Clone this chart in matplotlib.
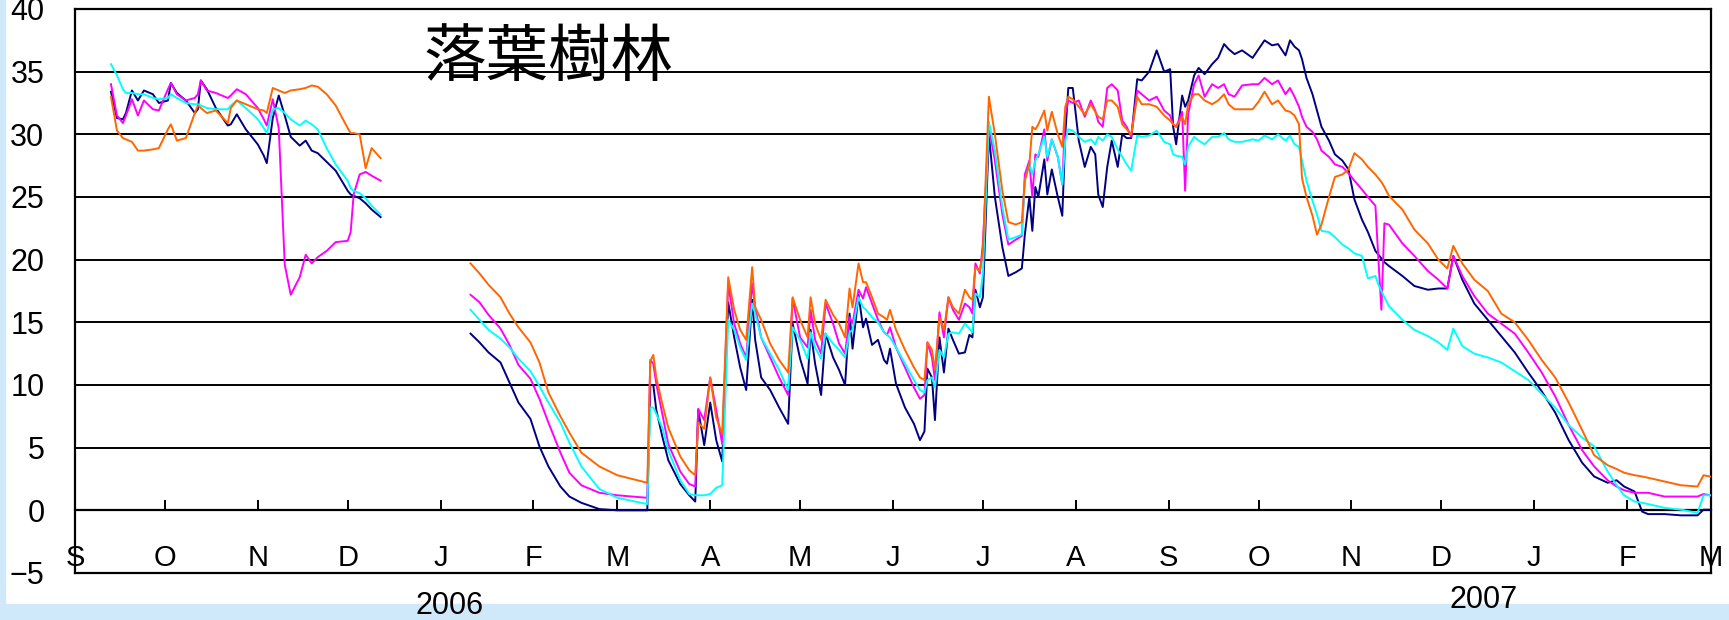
import numpy as np
import pandas as pd
import matplotlib
matplotlib.use("Agg")
import matplotlib.pyplot as plt
from matplotlib.patches import Rectangle
from matplotlib.transforms import blended_transform_factory

plt.rcParams["font.family"] = ["Liberation Sans", "DejaVu Sans"]

START = pd.Timestamp("2005-09-01")
END = pd.Timestamp("2007-03-01")

# days since 1 Sep 2005; the NaN row at day 117 breaks the lines over the gap
day = [
    # autumn 2005
    12, 14, 16, 17, 19, 21, 23, 26, 28, 31, 32, 34, 37, 40, 41, 42, 44, 47, 51, 52,
    54, 57, 61, 63, 64, 66, 68, 70, 72, 75, 77, 79, 81, 84, 87, 91, 92, 93, 95, 97,
    99, 102,
    117,
    # winter
    132, 135, 138, 142, 145, 148, 152, 155, 158, 162, 165, 169, 175, 181, 191,
    # spring
    192, 193, 194, 196, 198, 202, 205, 207, 208, 210, 212, 214, 216, 218, 220, 222,
    224, 226, 227, 229, 232, 235, 238, 239.5, 242, 244.5, 245.5, 247, 249, 250.5,
    253, 255, 257, 258.5, 259.5, 261.5, 263, 264, 266, 268, 270, 271, 272, 274, 277,
    280, 282, 283.5, 284.5, 286, 287, 288.5, 290, 291.5, 293, 295, 297, 298.5, 299.5,
    300.5, 302, 303,
    # summer
    305, 307, 309.5, 311.5, 314, 316, 317, 318.5, 319.5, 320.5, 321.5, 323.5, 324.5,
    326, 328, 329.5, 330.5, 331.5, 333, 335, 337, 339, 340.5, 341.5, 343, 344.5, 346,
    348, 349.5, 351, 352.5, 354.5, 356, 358.5, 361, 363.5, 365.5, 366.5, 367.5,
    369.5, 370.5, 371.5, 373.5, 375, 377, 379.5, 381.5, 383.5, 385, 387, 389.5, 393,
    395, 397, 399.5, 401.5, 404, 405.5, 407, 408.5, 409.5, 411, 413, 414.5, 416,
    418.5, 420.5, 423, 425,
    # autumn / winter 2006-07
    427, 429.5, 431.5, 434, 435, 436, 437, 438.5, 443, 447, 451.5, 455, 458, 460,
    463, 467, 471.5, 476, 480.5, 485, 489.5, 494, 498.5, 503, 507, 511.5, 514.5, 517,
    520.5, 523, 525, 530.5, 536, 541.5, 543.5, 545.7,
]

nan = np.nan

navy = [
    33.4, 31.3, 31.2, 31.7, 33.5, 32.7, 33.5, 33.2, 32.5, 32.7, 34.1, 33.3, 32.7, 31.7,
    32.0, 34.3, 33.6, 32.1, 30.7, 30.8, 31.6, 30.4, 29.2, 28.3, 27.7, 31.3, 33.1, 31.5,
    29.8, 29.1, 29.5, 28.7, 28.5, 27.8, 27.1, 25.5, 25.2, 25.1, 24.9, 24.5, 24.0, 23.4,
    nan,
    14.1, 13.4, 12.6, 11.8, 10.2, 8.6, 7.3, 5.1, 3.5, 1.9, 1.1, 0.6, 0.1, 0.0, 0.0,
    10.0, 10.0, 8.0, 5.9, 4.0, 2.1, 1.2, 0.7, 8.0, 5.2, 8.6, 5.6, 3.9, 16.6, 13.8, 11.4,
    9.6, 16.8, 13.6, 10.6, 9.6, 8.2, 6.9, 14.9, 12.1, 10.1, 14.4, 11.7, 9.2, 14.1, 12.2,
    11.2, 10.0, 15.7, 12.9, 17.2, 14.6, 15.3, 13.2, 13.6, 12.0, 11.7, 12.9, 10.1, 8.2,
    6.9, 5.6, 6.3, 11.3, 10.6, 7.2, 13.8, 11.0, 14.5, 13.6, 12.5, 12.6, 14.0, 13.8, 17.6,
    16.2, 17.0,
    30.0, 25.0, 21.0, 18.7, 19.0, 19.3, 22.0, 25.0, 22.3, 25.8, 25.0, 28.0, 25.2, 27.2,
    25.0, 23.5, 30.0, 33.7, 33.7, 29.5, 27.4, 29.0, 28.4, 25.2, 24.2, 27.4, 29.5, 27.4,
    30.0, 29.7, 29.7, 34.4, 34.3, 35.0, 36.7, 35.0, 35.2, 30.6, 29.2, 33.1, 32.2, 32.7,
    34.7, 35.3, 34.8, 35.6, 36.1, 37.2, 36.8, 36.4, 36.7, 36.1, 36.8, 37.5, 37.1, 37.2,
    36.3, 37.5, 37.0, 36.7, 36.0, 34.5, 33.2, 31.9, 30.6, 29.5, 28.4, 27.9, 27.2,
    24.8, 23.2, 22.2, 20.7, 20.4, 20.1, 19.8, 19.5, 18.7, 17.9, 17.6, 17.7, 17.7, 20.3,
    18.4, 16.5, 15.2, 13.9, 12.6, 11.0, 9.5, 7.8, 5.6, 3.8, 2.7, 2.2, 2.4, 1.9, 1.5,
    -0.1, -0.3, -0.3, -0.4, -0.4, 0.05, 0.05,
]

orange = [
    33.0, 30.3, 29.7, 29.6, 29.4, 28.7, 28.7, 28.8, 28.9, 30.4, 30.8, 29.5, 29.7, 31.7,
    32.3, 32.1, 31.7, 31.9, 30.9, 32.1, 32.7, 32.4, 32.0, 31.9, 31.7, 33.7, 33.5, 33.3,
    33.5, 33.6, 33.7, 33.9, 33.8, 33.2, 32.3, 30.5, 30.1, 30.1, 30.0, 27.3, 28.9, 28.1,
    nan,
    19.7, 18.9, 18.0, 17.0, 15.7, 14.6, 13.4, 11.8, 9.4, 7.5, 6.2, 4.6, 3.5, 2.8, 2.2,
    11.9, 12.4, 10.6, 8.5, 6.6, 4.3, 3.2, 2.8, 7.0, 6.5, 10.6, 7.4, 6.1, 18.6, 16.0,
    14.4, 13.6, 19.4, 16.2, 15.2, 13.3, 12.0, 11.0, 17.0, 15.2, 13.8, 17.0, 14.9, 13.6,
    16.8, 15.6, 14.9, 13.8, 17.7, 16.2, 19.7, 18.2, 18.2, 17.0, 15.7, 15.4, 15.2, 16.0,
    14.4, 12.8, 11.4, 10.6, 10.4, 13.4, 12.8, 11.2, 15.4, 14.4, 17.0, 16.2, 15.7, 17.6,
    17.0, 16.8, 19.4, 19.1, 20.7,
    33.0, 30.0, 25.5, 23.0, 22.8, 23.0, 26.3, 27.6, 30.6, 30.4, 30.8, 31.9, 30.3, 31.8,
    30.0, 29.0, 32.2, 33.0, 32.8, 32.2, 31.6, 32.4, 31.8, 31.4, 31.2, 32.7, 32.7, 32.2,
    30.8, 30.4, 30.0, 33.0, 32.4, 32.4, 32.2, 31.5, 31.1, 30.8, 30.6, 31.4, 30.8, 32.4,
    33.2, 33.2, 32.7, 32.4, 32.7, 33.2, 32.4, 32.0, 32.0, 32.0, 32.6, 33.4, 32.4, 32.7,
    31.9, 31.8, 31.5, 30.8, 26.5, 25.0, 23.5, 22.0, 22.8, 25.0, 26.6, 26.8, 27.2,
    28.5, 28.0, 27.4, 26.8, 26.5, 26.2, 25.8, 25.1, 24.0, 22.4, 21.3, 20.0, 19.3, 21.1,
    19.7, 18.4, 17.5, 15.7, 15.0, 13.6, 12.0, 10.6, 8.6, 6.4, 4.4, 3.6, 3.3, 3.0, 2.8,
    2.7, 2.6, 2.3, 2.0, 1.9, 2.8, 2.7,
]

magenta = [
    34.0, 31.5, 30.9, 31.5, 32.8, 31.5, 32.7, 32.0, 31.9, 33.6, 34.1, 33.2, 32.7, 32.9,
    33.2, 34.3, 33.5, 33.3, 32.9, 33.1, 33.6, 33.2, 32.1, 31.2, 30.7, 32.8, 30.5, 19.6,
    17.2, 18.6, 20.4, 19.7, 20.2, 20.7, 21.4, 21.5, 22.2, 25.2, 26.8, 27.0, 26.7, 26.3,
    nan,
    17.2, 16.6, 15.6, 14.5, 13.2, 11.6, 10.5, 8.9, 7.0, 4.6, 3.0, 2.0, 1.4, 1.2, 1.0,
    12.0, 11.7, 10.1, 7.7, 5.3, 3.1, 2.1, 1.9, 8.1, 7.2, 10.6, 8.0, 5.3, 18.1, 14.9,
    13.3, 12.2, 18.1, 16.2, 13.8, 12.2, 10.6, 9.2, 16.9, 13.8, 13.0, 16.0, 13.6, 12.5,
    16.5, 14.9, 13.3, 12.5, 15.4, 14.9, 17.6, 16.9, 17.8, 16.5, 15.2, 14.2, 14.0, 14.6,
    13.0, 11.4, 9.8, 8.9, 9.2, 13.4, 12.2, 10.4, 15.8, 13.8, 17.0, 16.0, 15.2, 16.5,
    16.2, 15.7, 19.7, 18.9, 21.3,
    30.6, 27.9, 23.6, 21.2, 21.6, 21.9, 26.8, 27.9, 25.0, 28.4, 28.2, 30.4, 27.9, 29.6,
    28.2, 26.0, 31.6, 32.7, 32.5, 32.7, 31.4, 32.7, 31.9, 31.0, 30.6, 33.7, 34.0, 33.5,
    31.1, 30.6, 29.8, 33.5, 33.2, 32.7, 33.0, 31.9, 31.5, 30.8, 30.6, 31.8, 25.5, 31.6,
    34.0, 34.7, 33.0, 34.0, 33.7, 34.0, 33.2, 33.0, 33.9, 34.0, 34.0, 34.5, 34.0, 34.3,
    33.2, 33.7, 33.0, 32.2, 31.4, 30.6, 30.2, 29.6, 28.7, 28.2, 27.6, 27.4, 26.9,
    26.3, 25.6, 25.0, 24.3, 20.0, 16.0, 22.9, 22.8, 21.3, 20.3, 19.1, 18.4, 17.7, 20.3,
    18.7, 17.1, 15.7, 14.9, 14.1, 12.6, 11.0, 9.1, 6.8, 4.8, 3.5, 2.4, 1.9, 1.6, 1.4,
    1.4, 1.4, 1.1, 1.1, 1.1, 1.3, 1.2,
]

cyan = [
    35.6, 34.7, 33.6, 33.3, 33.3, 33.2, 33.2, 32.9, 32.8, 32.9, 33.2, 32.9, 32.5, 32.4,
    32.4, 32.3, 32.1, 32.0, 32.0, 32.3, 32.7, 32.1, 31.2, 30.5, 30.1, 32.0, 32.1, 31.7,
    31.2, 30.7, 31.1, 30.8, 30.4, 28.9, 27.6, 26.3, 25.7, 25.5, 25.3, 24.9, 24.3, 23.6,
    nan,
    16.0, 15.2, 14.4, 13.7, 13.0, 12.1, 11.1, 9.9, 8.6, 7.0, 5.4, 3.5, 1.7, 1.0, 0.5,
    8.2, 8.2, 7.7, 6.6, 4.8, 2.4, 1.3, 1.2, 1.2, 1.2, 1.3, 1.8, 2.0, 15.2, 14.4, 13.0,
    12.0, 16.5, 15.7, 13.8, 12.5, 11.2, 9.6, 14.6, 13.6, 12.1, 14.2, 13.0, 12.1, 14.1,
    13.3, 12.8, 12.2, 14.2, 14.4, 17.0, 16.2, 16.0, 15.4, 15.0, 14.2, 14.0, 13.8, 13.0,
    11.7, 10.4, 9.6, 9.4, 10.4, 10.6, 9.8, 12.8, 12.2, 14.1, 14.2, 14.1, 14.9, 14.5,
    14.2, 17.3, 17.0, 18.9,
    31.0, 28.7, 24.2, 21.6, 21.8, 22.0, 26.3, 27.6, 26.8, 27.9, 28.4, 29.8, 28.2, 29.6,
    28.2, 26.0, 29.5, 30.4, 30.3, 29.8, 29.4, 29.6, 29.2, 29.8, 29.5, 30.0, 29.8, 28.8,
    28.2, 27.6, 27.1, 29.9, 29.8, 29.9, 30.3, 29.4, 29.2, 28.4, 28.3, 28.2, 27.6, 29.0,
    29.8, 29.5, 29.2, 29.8, 29.8, 30.1, 29.6, 29.4, 29.4, 29.6, 29.5, 29.9, 29.6, 30.0,
    29.5, 29.9, 29.2, 29.0, 27.9, 26.3, 24.7, 23.6, 22.3, 22.2, 21.8, 21.2, 20.9,
    20.5, 20.3, 18.5, 18.7, 18.0, 17.5, 17.0, 16.3, 15.2, 14.4, 13.9, 13.4, 12.8, 14.5,
    13.1, 12.5, 12.2, 11.8, 11.1, 10.4, 9.3, 8.2, 6.8, 5.8, 5.1, 3.1, 2.0, 1.2, 0.7,
    0.6, 0.5, 0.2, 0.05, -0.2, 1.2, 1.2,
]

month_labels = ["S", "O", "N", "D", "J", "F", "M", "A", "M", "J",
                "J", "A", "S", "O", "N", "D", "J", "F", "M"]
year_labels = ["2006", "2007"]
year_dates = ["2006-01-04", "2006-12-15"]

dates = START + pd.to_timedelta(day, unit="D")
months = pd.date_range(START, END, freq="MS")

W, H = 1729, 620
fig = plt.figure(figsize=(W / 100, H / 100), dpi=100)
fig.patch.set_facecolor("white")

# pale blue strips along the left and bottom edges, kept behind everything
band = "#cfe9fa"
fig.patches.append(Rectangle((0, 0), 5 / W, 1, transform=fig.transFigure,
                             color=band, zorder=-5))
fig.patches.append(Rectangle((0, 0), 1, 16 / H, transform=fig.transFigure,
                             color=band, zorder=-5))

ax = fig.add_axes([75 / W, 47 / H, 1636 / W, 564 / H])
ax.patch.set_alpha(0)

for vals, col in [(navy, "#000080"), (magenta, "#FF00FF"),
                  (cyan, "#00FFFF"), (orange, "#FF6600")]:
    ax.plot(dates, vals, color=col, lw=1.4, zorder=3)

ax.set_xlim(START, END)
ax.set_ylim(-5, 40)
ax.set_yticks(np.arange(-5, 41, 5))
ax.yaxis.grid(True, color="black", lw=1.4)
ax.set_axisbelow(True)

for s in ax.spines.values():
    s.set_linewidth(1.6)
    s.set_color("black")
ax.spines["bottom"].set_position(("data", 0))
ax.axhline(-5, color="black", lw=1.6, clip_on=False, zorder=4)

ax.set_xticks(months)
ax.set_xticklabels(month_labels)
ax.tick_params(axis="x", direction="in", length=7, width=1.4, pad=24,
               labelsize=21)
ax.tick_params(axis="y", length=0, pad=22, labelsize=22)

trans = blended_transform_factory(ax.transData, ax.transAxes)
for txt, d, yy in zip(year_labels, year_dates, [-0.058, -0.048]):
    ax.text(pd.Timestamp(d), yy, txt, transform=trans, ha="center",
            va="center", fontsize=22, clip_on=False, zorder=6)

fig.text(549 / W, 1 - 58 / H, "落葉樹林", fontsize=45,
         family=["Noto Sans CJK JP"], ha="center", va="center")

fig.savefig("out.png", dpi=100)
